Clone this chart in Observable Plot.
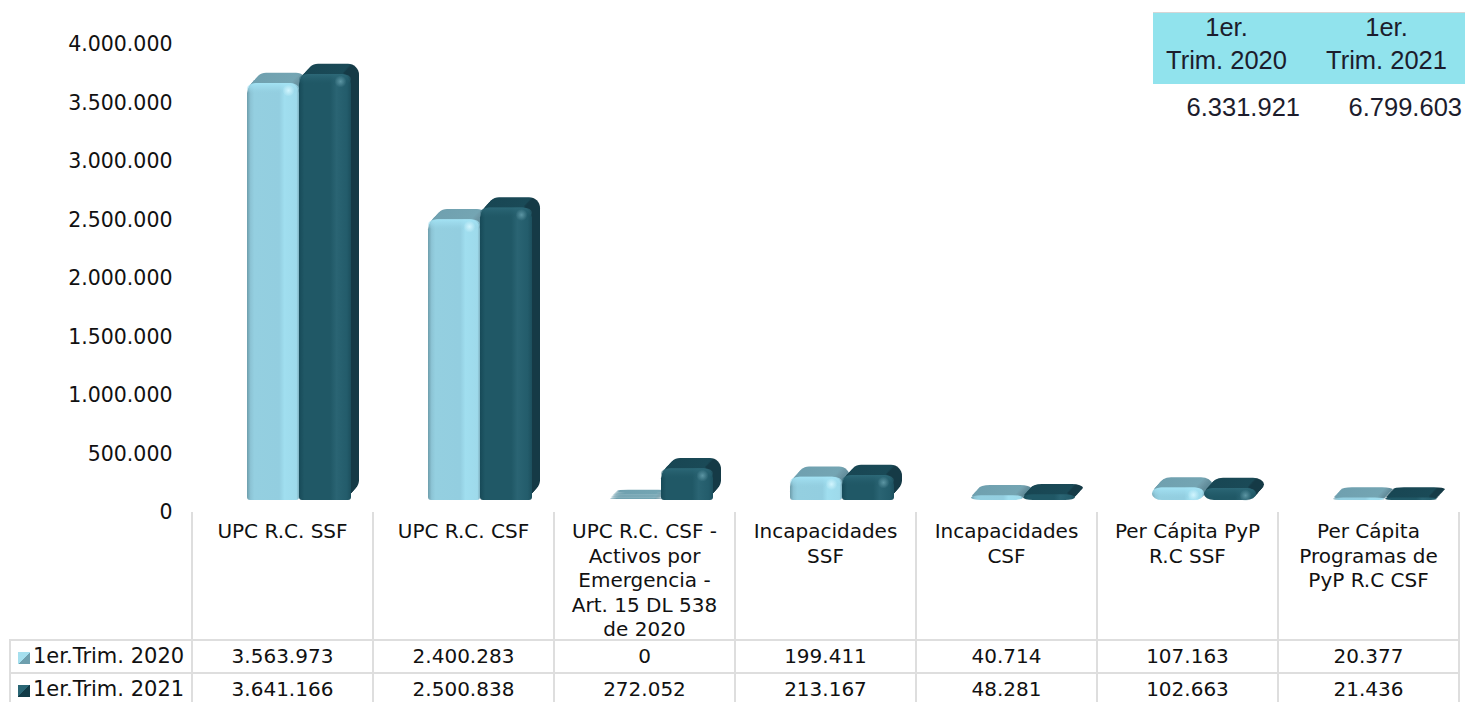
<!DOCTYPE html>
<html><head><meta charset="utf-8">
<script src="https://cdn.jsdelivr.net/npm/d3@7"></script>
<script src="https://cdn.jsdelivr.net/npm/@observablehq/plot@0.6"></script>
<style>
html,body{margin:0;padding:0;background:#fff;width:1465px;height:702px;overflow:hidden}
#wrap{position:relative;width:1465px;height:702px;overflow:hidden}
#chart svg{display:block;position:absolute;left:0;top:0}
#grid{position:absolute;left:9px;top:512px;border-collapse:collapse;table-layout:fixed;width:1449px;font:20px "DejaVu Sans",sans-serif;color:#111}
#grid td{border:2px solid #dedede;text-align:center;padding:0;white-space:nowrap;box-sizing:border-box}
#grid .lab td{height:128px;vertical-align:top;line-height:24.5px;padding-top:7px;border-top:none;overflow:visible}
#grid .lab td>div{height:110px}
#grid .lab td:first-child{border:none;border-right:2px solid #dedede;border-bottom:2px solid #dedede}
#grid .val td{height:33px;line-height:29px;overflow:hidden}
#grid .val td:first-child{text-align:left;padding-left:7px;font-size:21px}
.sw{display:inline-block;width:12px;height:12px;margin-right:3px;vertical-align:-1px}
#tot{position:absolute;left:1153px;top:12px;width:312px;font:25.5px "Liberation Sans",Arial,sans-serif;color:#1c1c2c}
#tot .h{display:flex;background:#91e3ed;border-top:1px solid #d6d6d6;height:71px;line-height:33px;text-align:center}
#tot .h div{margin-top:-2px;flex:none}
#tot .h div:first-child{width:147px}
#tot .h div:last-child{width:173px}
#tot .v{display:flex;margin-top:6px;line-height:34px;text-align:right}
#tot .v div{flex:none}
#tot .v div:first-child{width:147px}
#tot .v div:last-child{width:162px}
</style></head><body>
<div id="wrap"><div id="chart"></div><table id="grid"></table>
<div id="tot"></div></div>
<script>
const categories = ["UPC R.C. SSF","UPC R.C. CSF","UPC R.C. CSF - Activos por Emergencia - Art. 15 DL 538 de 2020","Incapacidades SSF","Incapacidades CSF","Per Cápita PyP R.C SSF","Per Cápita Programas de PyP R.C CSF"];
const categoryLines = [["UPC R.C. SSF"],["UPC R.C. CSF"],["UPC R.C. CSF -","Activos por","Emergencia -","Art. 15 DL 538","de 2020"],["Incapacidades","SSF"],["Incapacidades","CSF"],["Per Cápita PyP","R.C SSF"],["Per Cápita","Programas de","PyP R.C CSF"]];
const seriesNames = ["1er.Trim. 2020","1er.Trim. 2021"];
const values2020 = [3563973,2400283,0,199411,40714,107163,20377];
const values2021 = [3641166,2500838,272052,213167,48281,102663,21436];
const totals = ["6.331.921","6.799.603"];
const totalHeads = [["1er.","Trim. 2020"],["1er.","Trim. 2021"]];
const yTicks = [0,500000,1000000,1500000,2000000,2500000,3000000,3500000,4000000];

const fmt = d => d3.format(",")(d).replace(/,/g,".");
const rowsFor = (name, vals) => vals.map((value,i)=>({category:categories[i],series:name,value}));
const palettes = {
  [seriesNames[0]]: {front:"url(#f0)", back:"url(#b0)", spot:"url(#s0)", bevel:"url(#v0)"},
  [seriesNames[1]]: {front:"url(#f1)", back:"url(#b1)", spot:"url(#s1)", bevel:"url(#v1)"}
};
function defs(){
  const s = d3.create("svg:g"), d = s.append("defs");
  const lin = (id,vertical,stops)=>{const g=d.append("linearGradient").attr("id",id).attr("x1",0).attr("y1",0).attr("x2",vertical?0:1).attr("y2",vertical?1:0);
    stops.forEach(([o,c,a])=>g.append("stop").attr("offset",o).attr("stop-color",c).attr("stop-opacity",a==null?1:a));};
  const rad = (id,c)=>{const g=d.append("radialGradient").attr("id",id);
    g.append("stop").attr("offset",0).attr("stop-color",c).attr("stop-opacity",.95);
    g.append("stop").attr("offset",1).attr("stop-color",c).attr("stop-opacity",0);};
  lin("f0",false,[[0,"#6d9dab"],[.07,"#8cc4d5"],[.14,"#94cfe0"],[.62,"#93cee0"],[.72,"#a0deef"],[.95,"#9edaeb"],[1,"#7fb0bf"]]);
  lin("f1",false,[[0,"#174a58"],[.1,"#205866"],[.6,"#205866"],[.72,"#2a6473"],[.92,"#235c6b"],[1,"#1c4f5d"]]);
  lin("b0",false,[[0,"#6fa0af"],[.84,"#74a5b3"],[.9,"#6f9aa8"],[1,"#5c8795"]]);
  lin("b1",false,[[0,"#184653"],[.82,"#1a4a57"],[.86,"#153a46"],[1,"#153a46"]]);
  lin("v0",true,[[0,"#a4e4f5",.95],[.5,"#9fdcee",.5],[1,"#93cfe0",0]]);
  lin("v1",true,[[0,"#2d6978",.95],[.5,"#276170",.5],[1,"#205866",0]]);
  rad("s0","#d4f6ff"); rad("s1","#5f98a6");
  return s.node();
}
const depth = 8, rise = 8.75;
function barMarks(name, vals){
  const rows = rowsFor(name, vals), p = palettes[name], o = {x:"series",y:"value",fx:"category"};
  const ms = [];
  for (let i=depth;i>=1;i--) ms.push(Plot.barY(rows,{...o,fill:p.back,rx:11,ry:11,dx:i,dy:-i*rise/depth,insetTop:-1.5}));
  const pos = rows.filter(d=>d.value>0);
  ms.push(Plot.barY(pos,{...o,fill:p.front,rx:10,ry:10}));
  ms.push(Plot.barY(pos.filter(d=>d.value>150000),{x:"series",y1:0,y2:d=>d.value*0.5,fx:"category",fill:p.front,rx:3,ry:3}));
  ms.push(Plot.barY(pos.filter(d=>d.value>90000),{x:"series",y1:"value",y2:"value",fx:"category",fill:p.bevel,rx:9,ry:9,insetBottom:-11}));
  ms.push(Plot.dot(pos.filter(d=>d.value>90000),{x:"series",y:"value",fx:"category",r:6,fill:p.spot,dx:15,dy:7}));
  return ms;
}
const plot = Plot.plot({
  width:1465,height:702,marginLeft:192,marginRight:6,marginTop:0,marginBottom:0,
  style:{fontFamily:"'DejaVu Sans',sans-serif",background:"transparent",color:"#111"},
  fx:{domain:categories,padding:0,axis:null},
  x:{domain:seriesNames,range:[247,351],padding:0,axis:null},
  y:{domain:[0,4000000],range:[500,32],axis:null},
  marks:[
    defs,
    Plot.axisY(yTicks,{anchor:"left",tickSize:0,tickPadding:20,fontSize:20.5,dy:12,tickFormat:fmt,label:null}),
    ...barMarks(seriesNames[0],values2020),
    ...barMarks(seriesNames[1],values2021)
  ]
});
document.getElementById("chart").append(plot);

const sw = ["linear-gradient(135deg,#a5dfee 0 50%,#6e9fae 50% 100%)","linear-gradient(135deg,#2a6675 0 50%,#123b47 50% 100%)"];
let html = '<colgroup><col style="width:182px">'+categories.map(()=>'<col style="width:181px">').join("")+'</colgroup>';
html += '<tr class="lab"><td></td>'+categoryLines.map(l=>`<td><div>${l.join("<br>")}</div></td>`).join("")+'</tr>';
[values2020,values2021].forEach((vals,k)=>{
  html += `<tr class="val"><td><span class="sw" style="background:${sw[k]}"></span>${seriesNames[k]}</td>`+vals.map(v=>`<td>${fmt(v)}</td>`).join("")+'</tr>';
});
document.getElementById("grid").innerHTML = html;
document.getElementById("tot").innerHTML =
  '<div class="h">'+totalHeads.map(h=>`<div>${h.join("<br>")}</div>`).join("")+'</div>'+
  '<div class="v">'+totals.map(t=>`<div>${t}</div>`).join("")+'</div>';
</script></body></html>
